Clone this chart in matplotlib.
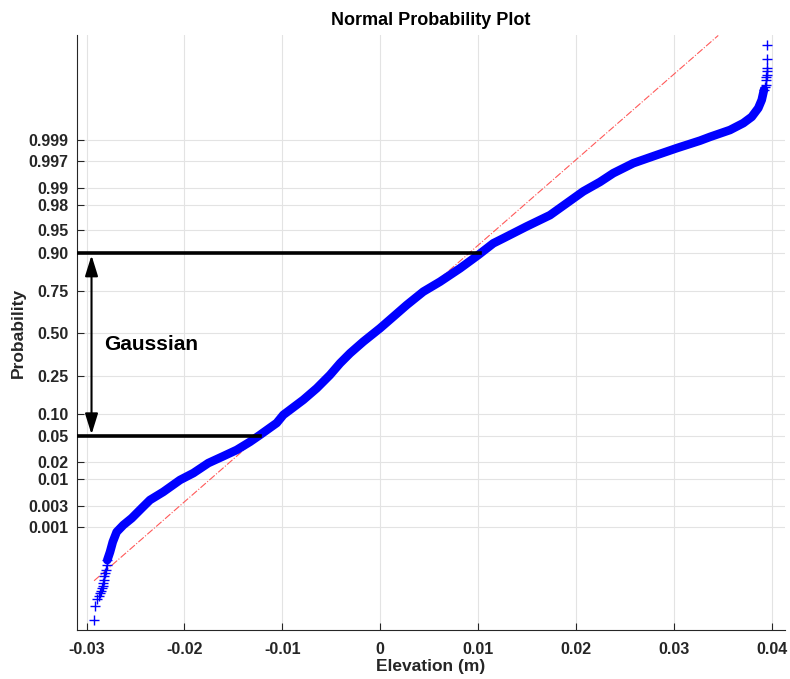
import numpy as np
import matplotlib
matplotlib.use('Agg')
import matplotlib.pyplot as plt
from statistics import NormalDist

plt.rcParams['font.family'] = ['Liberation Sans', 'DejaVu Sans']
plt.rcParams['font.weight'] = 'bold'

nd = NormalDist()

# sorted elevations (m) and their normal quantiles
elev_body = [-0.02788, -0.02760, -0.02732, -0.02692, -0.02624, -0.02538, -0.02436,
             -0.02352, -0.02216, -0.02045, -0.01909, -0.01756, -0.01603, -0.01466,
             -0.01330, -0.01228, -0.01058, -0.00990, -0.00786, -0.00649, -0.00514,
             -0.00411, -0.00309, -0.00174, -0.00003, 0.00133, 0.00270, 0.00439,
             0.00610, 0.00814, 0.01001, 0.01154, 0.01256, 0.01495, 0.01733, 0.01903,
             0.02073, 0.02243, 0.02379, 0.02584, 0.02822, 0.03027, 0.03265, 0.03367,
             0.03571, 0.03707, 0.03793, 0.03860, 0.03895, 0.03918]
z_body = [-3.62, -3.49, -3.33, -3.17, -3.06, -2.95, -2.79,
          -2.66, -2.53, -2.34, -2.23, -2.07, -1.96, -1.86,
          -1.73, -1.62, -1.43, -1.30, -1.06, -0.875, -0.663,
          -0.476, -0.316, -0.131, 0.083, 0.268, 0.455, 0.668,
          0.827, 1.04, 1.254, 1.44, 1.52, 1.71, 1.89, 2.08,
          2.27, 2.42, 2.56, 2.72, 2.85, 2.96, 3.08, 3.14,
          3.25, 3.36, 3.46, 3.60, 3.73, 3.89]

# sparse tail points (drawn as single markers)
elev_low = [-0.02923, -0.02916, -0.02890, -0.02875, -0.02862, -0.02852, -0.02845,
            -0.02836, -0.02828, -0.02822, -0.02818, -0.02810, -0.02801, -0.02795,
            -0.02788]
z_low = [-4.58, -4.36, -4.24, -4.19, -4.15, -4.11, -4.07,
         -4.03, -3.99, -3.94, -3.88, -3.83, -3.78, -3.70, -3.62]
elev_high = [0.03918, 0.03930, 0.03939, 0.03939, 0.03942, 0.03946, 0.03946,
             0.03950, 0.03952, 0.03952]
z_high = [3.89, 3.93, 3.97, 4.05, 4.09, 4.13, 4.19, 4.24, 4.38, 4.61]

# reference line (quartile fit)
ref_elev = [-0.02923, 0.03451]
ref_z = [-3.95, 4.76]

# probability tick labels
prob_ticks = [0.001, 0.003, 0.01, 0.02, 0.05, 0.10, 0.25, 0.50, 0.75, 0.90,
              0.95, 0.98, 0.99, 0.997, 0.999]
prob_labels = ['0.001', '0.003', '0.01', '0.02', '0.05', '0.10', '0.25', '0.50',
               '0.75', '0.90', '0.95', '0.98', '0.99', '0.997', '0.999']
x_ticks = [-0.03, -0.02, -0.01, 0, 0.01, 0.02, 0.03, 0.04]
x_labels = ['-0.03', '-0.02', '-0.01', '0', '0.01', '0.02', '0.03', '0.04']

# annotation: Gaussian region between 0.05 and 0.90
p_lo, p_hi = 0.05, 0.90
x_end_lo, x_end_hi = -0.01228, 0.01018
x_arrow = -0.02949

tick_z = [nd.inv_cdf(p) for p in prob_ticks]
z_lo, z_hi = nd.inv_cdf(p_lo), nd.inv_cdf(p_hi)

fig = plt.figure(figsize=(7.9, 6.79), dpi=100)
ax = fig.add_axes([0.0975, 0.0722, 0.8962, 0.8763])

xmin, xmax = -0.03097, 0.04133

# reference line
ax.plot(ref_elev, ref_z, color=(1, 0.35, 0.35), linestyle='-.', linewidth=0.8, zorder=2)

# data
ax.plot(elev_body, z_body, color='blue', linewidth=6.2, solid_capstyle='round',
        solid_joinstyle='round', zorder=3)
ax.plot(elev_low, z_low, '+', color='blue', markersize=6.5, markeredgewidth=1.0, zorder=3)
ax.plot(elev_high, z_high, '+', color='blue', markersize=6.5, markeredgewidth=1.0, zorder=3)

# black guide lines
ax.plot([xmin, x_end_hi], [z_hi, z_hi], color='black', linewidth=2.6, zorder=4)
ax.plot([xmin, x_end_lo], [z_lo, z_lo], color='black', linewidth=2.6, zorder=4)
ax.annotate('', xy=(x_arrow, z_hi), xytext=(x_arrow, z_lo),
            arrowprops=dict(arrowstyle='<|-|>,head_length=0.9,head_width=0.28',
                            color='black', lw=1.5, shrinkA=1.5, shrinkB=1.5,
                            mutation_scale=14), zorder=5)
ax.text(-0.02821, -0.18, 'Gaussian', fontsize=15, fontweight='bold',
        ha='left', va='center', color='black')

# axes
ax.set_xlim(xmin, xmax)
ax.set_ylim(-4.736, 4.768)
ax.set_xticks(x_ticks)
ax.set_xticklabels(x_labels)
ax.set_yticks(tick_z)
ax.set_yticklabels(prob_labels)
ax.tick_params(direction='in', length=5, width=0.8, colors='#262626',
               labelsize=11.5, pad=6)
ax.tick_params(axis='x', pad=9)
ax.grid(True, color='#e3e3e3', linewidth=0.8)
ax.set_axisbelow(True)
for side in ['top', 'right']:
    ax.spines[side].set_visible(False)
for side in ['left', 'bottom']:
    ax.spines[side].set_color('#262626')
    ax.spines[side].set_linewidth(0.8)

ax.set_title('Normal Probability Plot', fontsize=13, fontweight='bold', pad=7)
ax.set_xlabel('Elevation (m)', fontsize=12.5, fontweight='bold', color='#262626', labelpad=1)
ax.set_ylabel('Probability', fontsize=12.5, fontweight='bold', color='#262626', labelpad=2)

fig.savefig('out.png', dpi=100)
